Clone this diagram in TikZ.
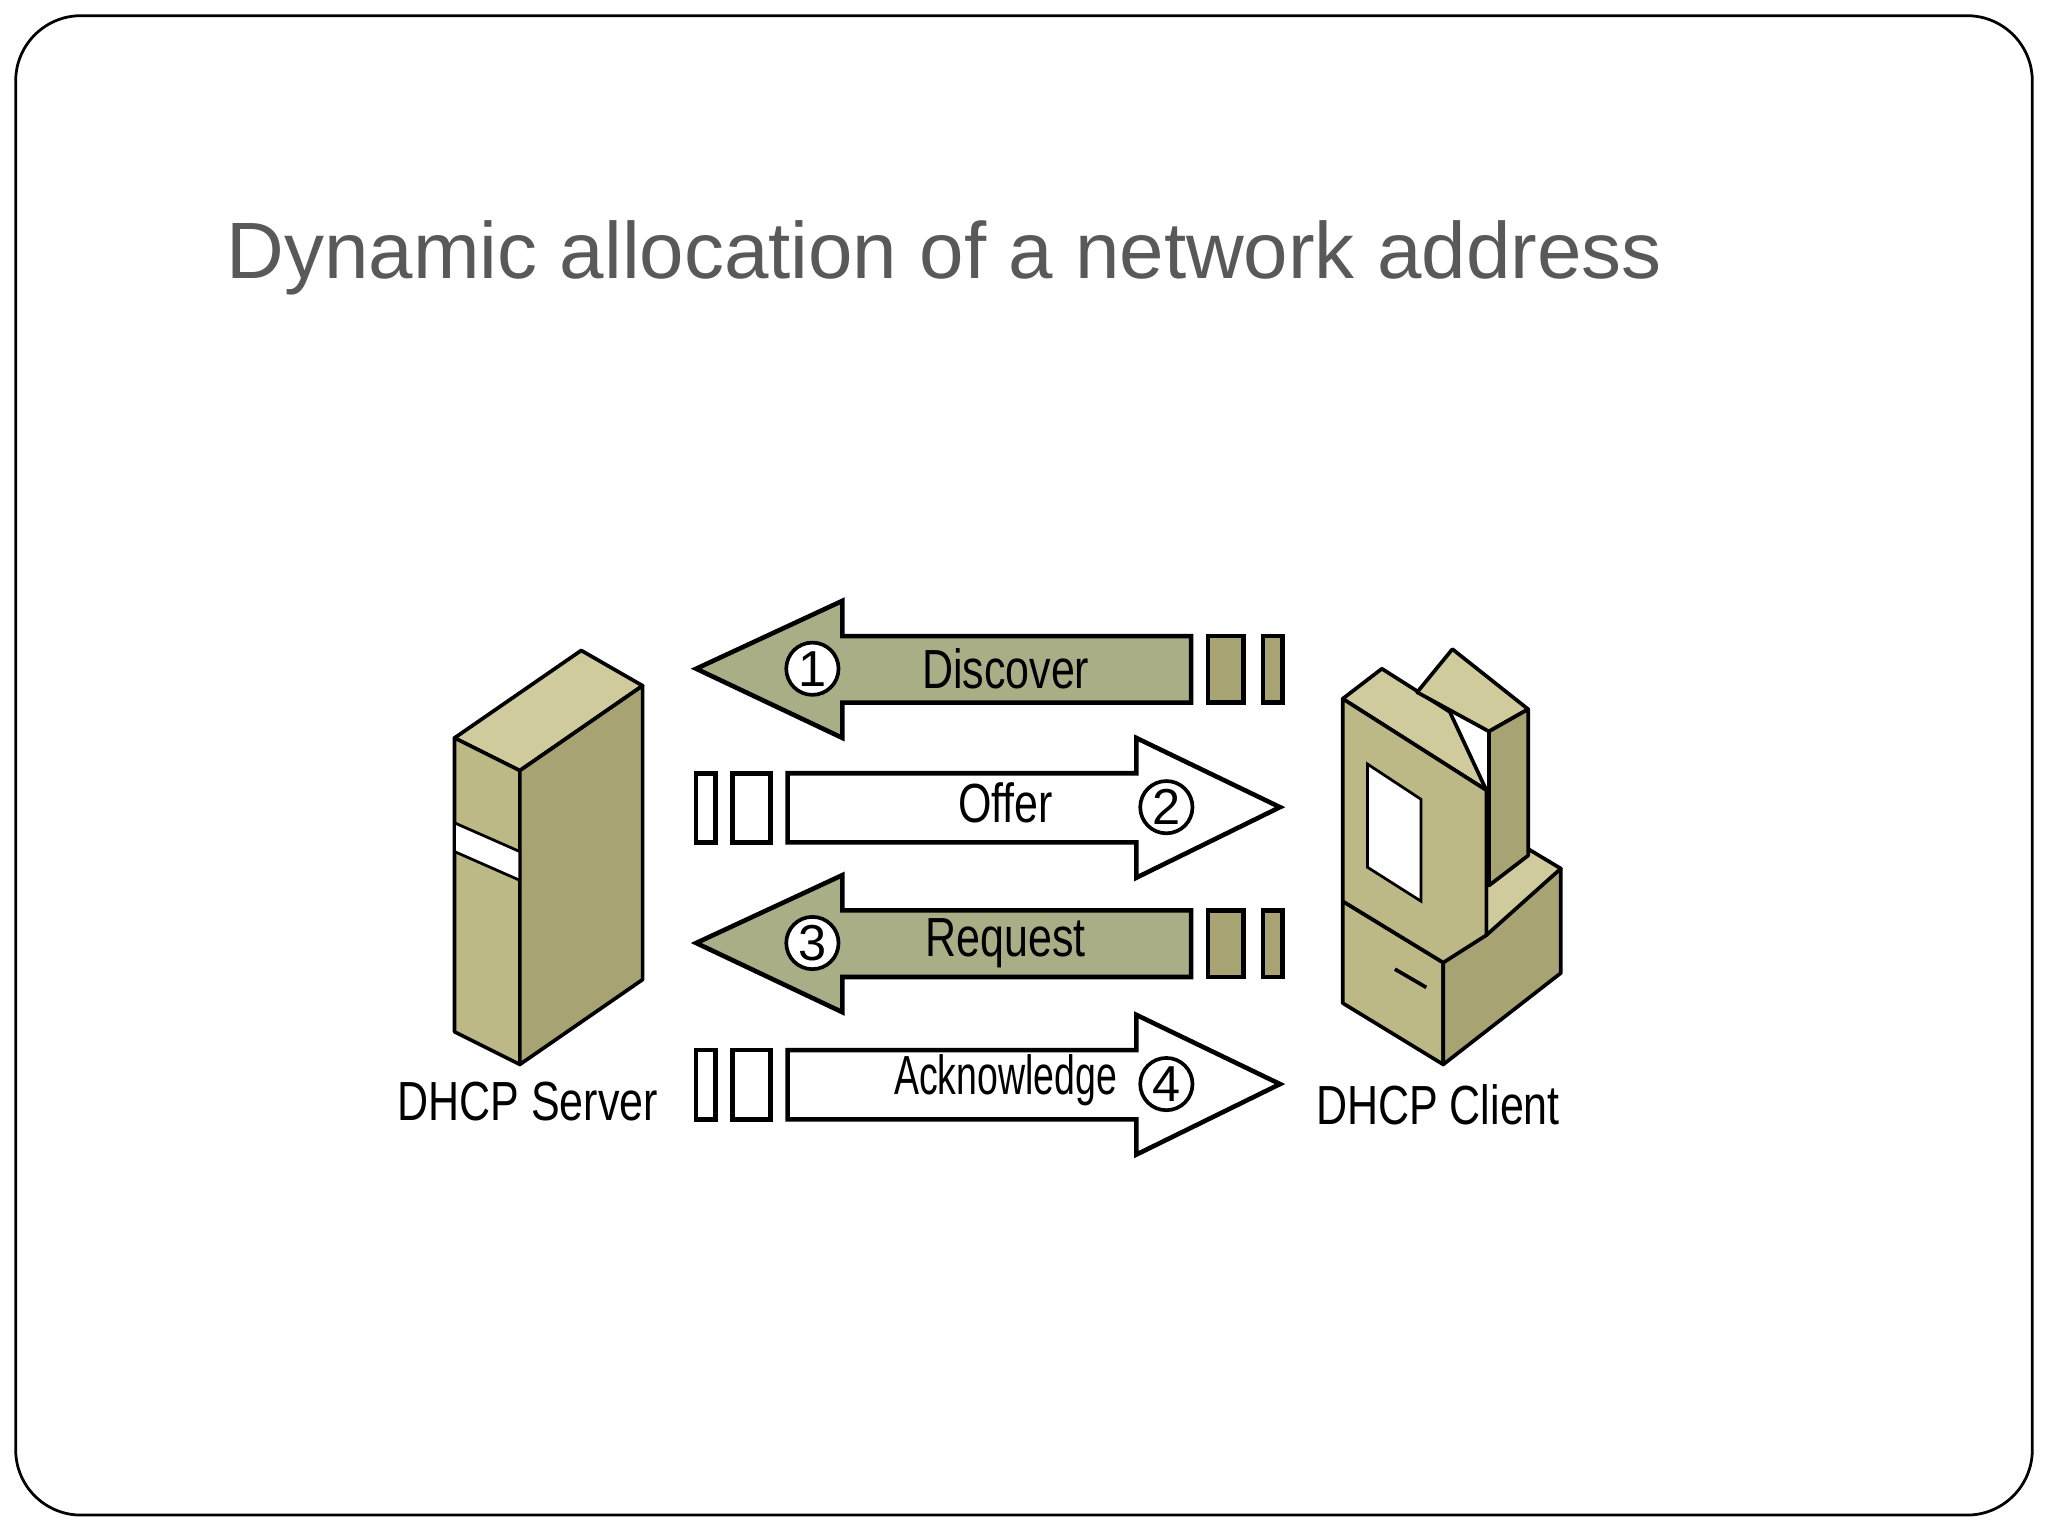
\documentclass[tikz,border=0pt]{standalone}
\usepackage{fontspec}
\setmainfont{Liberation Sans}
\begin{document}
\begin{tikzpicture}[x=0.01cm,y=-0.01cm,
  lt/.style={fill=olL,draw=black,line width=0.8pt,line join=round},
  md/.style={fill=olM,draw=black,line width=0.8pt,line join=round},
  dk/.style={fill=olD,draw=black,line width=0.8pt,line join=round},
  arr/.style={draw=black,line width=1pt,line join=miter},
  num/.style={circle,draw=black,fill=white,line width=0.8pt,inner sep=0pt,minimum size=0.4cm,font=\fontsize{11}{11}\selectfont},
  lab/.style={font=\fontsize{12}{12}\selectfont,xscale=0.78,inner sep=0pt}]
\definecolor{olL}{HTML}{CFCB9C}
\definecolor{olM}{HTML}{BDB986}
\definecolor{olD}{HTML}{A8A373}
\definecolor{olA}{HTML}{A9AE86}
\useasboundingbox (0,0) rectangle (1568,1176);
\draw[line width=0.6pt,rounded corners=0.5cm] (12,12) rectangle (1556,1160);
\node[anchor=base west,inner sep=0pt,text=black!65,font=\fontsize{17.4}{17.4}\selectfont] (title) at (173,213) {Dynamic allocation of a network address};
% server
\draw[lt] (348,565) -- (445,498) -- (492,525) -- (398,590) -- cycle;
\draw[md] (348,565) -- (398,590) -- (398,815) -- (348,790) -- cycle;
\draw[dk] (398,590) -- (492,525) -- (492,750) -- (398,815) -- cycle;
\draw[fill=white,draw=black,line width=0.6pt] (348,630) -- (398,652) -- (398,674) -- (348,652) -- cycle;
\node[lab] (srv) at (404,843) {DHCP Server};
% client
\draw[md] (1028,690) -- (1105,737) -- (1105,815) -- (1028,768) -- cycle;
\draw[dk] (1105,737) -- (1195,665) -- (1195,745) -- (1105,815) -- cycle;
\draw[lt] (1138,716) -- (1195,665) -- (1170,650) -- (1138,674) -- cycle;
\draw[lt] (1028,535) -- (1058,512) -- (1110,545) -- (1138,605) -- cycle;
\draw[lt] (1085,530) -- (1112,497) -- (1170,543) -- (1140,560) -- cycle;
\draw[dk] (1140,560) -- (1170,543) -- (1170,655) -- (1140,678) -- cycle;
\draw[md] (1028,535) -- (1138,605) -- (1138,716) -- (1105,737) -- (1028,690) -- cycle;
\draw[fill=white,draw=black,line width=0.6pt] (1047,585) -- (1088,612) -- (1088,690) -- (1047,664) -- cycle;
\draw[line width=0.8pt] (1068,742) -- (1092,756);
\node[lab] (cli) at (1101,846) {DHCP Client};
% arrows to the left
\foreach \c/\n/\t in {512/1/Discover,722/3/Request}{
  \draw[arr,fill=olA] (533,\c) -- (645,\c-52) -- (645,\c-25) -- (912,\c-25) -- (912,\c+26) -- (645,\c+26) -- (645,\c+53) -- cycle;
  \draw[arr,fill=olD] (925,\c-25) rectangle (952,\c+26);
  \draw[arr,fill=olD] (967,\c-25) rectangle (982,\c+26);
  \node[num] (n\n) at (622,\c) {\n};
  \node[lab] (l\n) at (770,\c) {\t};
}
% arrows to the right
\foreach \c/\n/\t/\s in {618/2/Offer/0.78,830/4/Acknowledge/0.68}{
  \draw[arr,fill=white] (980,\c) -- (870,\c-53) -- (870,\c-26) -- (603,\c-26) -- (603,\c+27) -- (870,\c+27) -- (870,\c+54) -- cycle;
  \draw[arr,fill=white] (533,\c-26) rectangle (548,\c+27);
  \draw[arr,fill=white] (561,\c-26) rectangle (590,\c+27);
  \node[num] (n\n) at (893,\c) {\n};
  \node[lab,xscale=\s/0.78] (l\n) at (770,\c-3) {\t};
}
\end{tikzpicture}
\end{document}
